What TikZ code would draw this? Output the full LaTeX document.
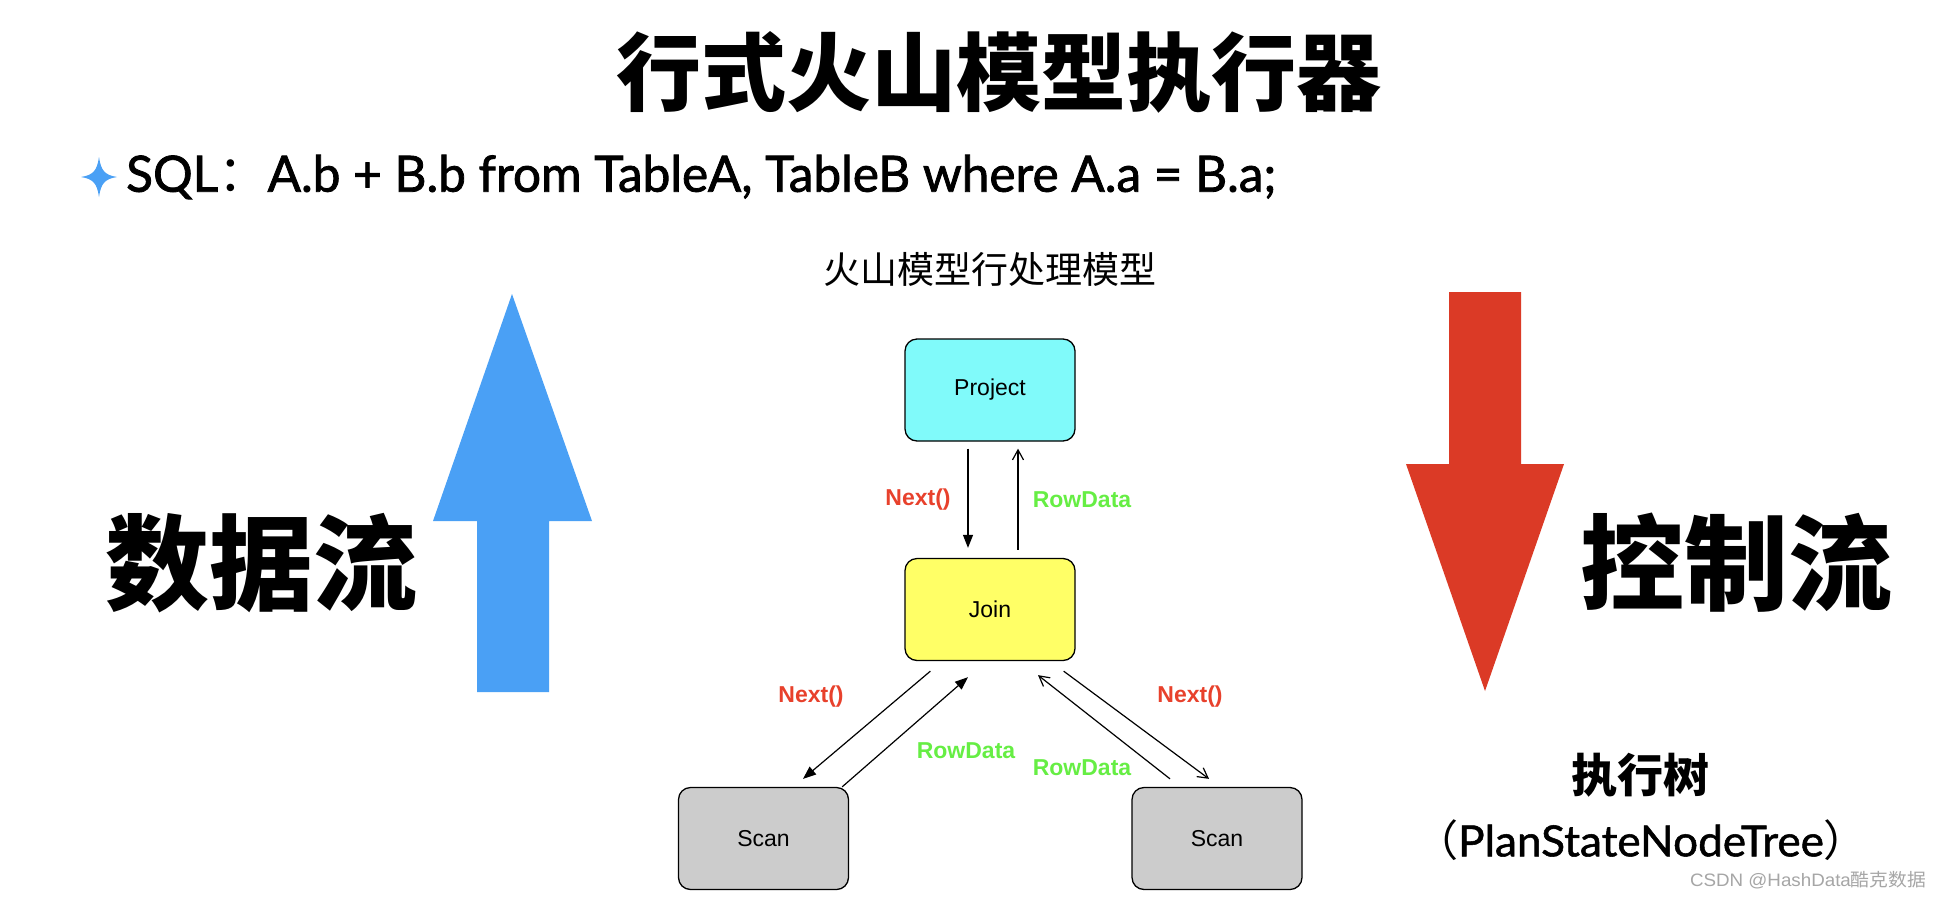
\documentclass[tikz,border=0pt]{standalone}
\usepackage{fontspec}
\setmainfont{Liberation Sans}
\newfontfamily\cjk{Noto Sans CJK SC}
\newfontfamily\latf[FakeBold=1.6]{Lato}
\newfontfamily\latg[FakeBold=1.2]{Lato}
\usetikzlibrary{arrows.meta}
\definecolor{projc}{RGB}{128,250,250}
\definecolor{joinc}{RGB}{255,255,102}
\definecolor{scanc}{RGB}{204,204,204}
\definecolor{nextc}{RGB}{232,65,44}
\definecolor{rowc}{RGB}{102,238,68}
\definecolor{bluea}{RGB}{74,160,245}
\definecolor{reda}{RGB}{219,58,38}
\begin{document}
\begin{tikzpicture}[x=1pt,y=-1pt,
  opbox/.style={draw=black, line width=1.3pt, rounded corners=12pt, minimum width=170pt, minimum height=102pt, inner sep=0pt, font=\fontsize{23}{27}\selectfont},
  filltip/.style={line width=1.2pt, -{Triangle[length=13pt,width=10pt]}},
  opentip/.style={line width=1.2pt, -{Straight Barb[length=10pt,width=11pt]}},
  nextlbl/.style={text=nextc, font=\fontsize{23}{26}\selectfont\bfseries, inner sep=0pt},
  rowlbl/.style={text=rowc, font=\fontsize{23}{26}\selectfont\bfseries, inner sep=0pt},
  bigcjk/.style={font=\cjk\bfseries\fontsize{104}{110}\selectfont, inner sep=0pt}
]
\useasboundingbox (0,0) rectangle (1942,900);
\fill[white] (0,0) rectangle (1942,900);

% title
\node[font=\cjk\bfseries\fontsize{85}{95}\selectfont, inner sep=0pt] (title) at (999,72) {行式火山模型执行器};

% SQL line with sparkle bullet
\fill[bluea] (99,157) .. controls (101,171) and (105,175) .. (117,177)
             .. controls (105,179) and (101,183) .. (99,197)
             .. controls (97,183) and (93,179) .. (81,177)
             .. controls (93,175) and (97,171) .. (99,157) -- cycle;
\node[anchor=west, inner sep=0pt, font=\latf\fontsize{50}{56}\selectfont] (sql) at (126,177) {\resizebox{1150pt}{\height}{SQL{\cjk：}A.b + B.b from TableA, TableB where A.a = B.a;}};

% subtitle
\node[font=\cjk\fontsize{37}{42}\selectfont, inner sep=0pt] (sub) at (990,269) {火山模型行处理模型};

% big arrows
\fill[bluea] (477,692) -- (477,521) -- (433,521) -- (512,294) -- (592,521) -- (549,521) -- (549,692) -- cycle;
\fill[reda] (1449,292) -- (1521,292) -- (1521,464) -- (1564,464) -- (1485,691) -- (1406,464) -- (1449,464) -- cycle;

\node[bigcjk] (data) at (261,563) {数据流};
\node[bigcjk] (ctrl) at (1736,563) {控制流};

% boxes
\node[opbox, fill=projc] (proj) at (990,390) {Project};
\node[opbox, fill=joinc] (join) at (990,609.5) {Join};
\node[opbox, fill=scanc] (scanl) at (763.5,838.5) {Scan};
\node[opbox, fill=scanc] (scanr) at (1217,838.5) {Scan};

% connectors
\draw[filltip] ([shift={(-22,7)}]proj.south) -- ([shift={(-22,-10)}]join.north);
\draw[opentip] ([shift={(28,-8)}]join.north) -- ([shift={(28,7)}]proj.south);
\draw[filltip] ([shift={(26,10)}]join.south west) -- ([shift={(39.5,-8)}]scanl.north);
\draw[filltip] ([shift={(-7,0)}]scanl.north east) -- ([shift={(-22,16)}]join.south);
\draw[opentip] ([shift={(-47,-8)}]scanr.north) -- ([shift={(48,14)}]join.south);
\draw[opentip] ([shift={(-12,10)}]join.south east) -- ([shift={(-8,-8)}]scanr.north);

% labels
\node[nextlbl] (l1) at (918,500) {Next()};
\node[rowlbl] (l2) at (1082,500) {RowData};
\node[nextlbl] (l3) at (811,697) {Next()};
\node[rowlbl] (l4) at (966,751) {RowData};
\node[rowlbl] (l5) at (1082,768) {RowData};
\node[nextlbl] (l6) at (1190,697) {Next()};

% right texts
\node[font=\cjk\bfseries\fontsize{46}{50}\selectfont, inner sep=0pt] (tree) at (1640,775) {执行树};
\node[font=\latg\fontsize{43}{46}\selectfont, inner sep=0pt] (pstree) at (1641,840) {\resizebox{454pt}{\height}{{\cjk（}PlanStateNodeTree{\cjk）}}};

% watermark
\node[text=gray!70, font=\fontsize{18}{20}\selectfont, inner sep=0pt] (wm) at (1808,880) {\resizebox{236pt}{\height}{CSDN @HashData{\cjk 酷克数据}}};
\end{tikzpicture}
\end{document}
